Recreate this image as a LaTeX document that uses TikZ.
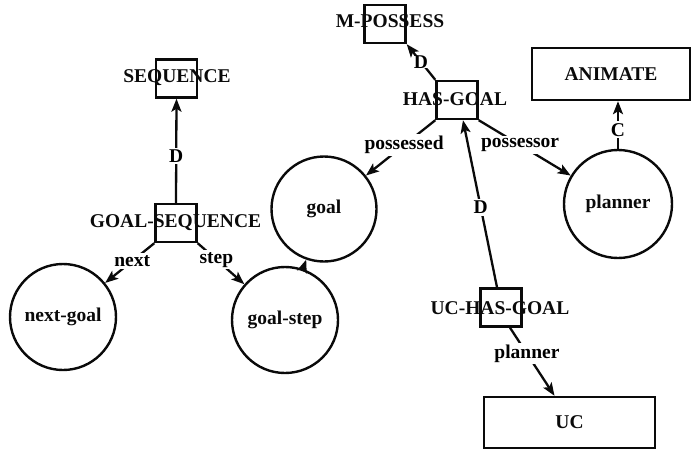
\documentclass[tikz,border=0pt]{standalone}
\usepackage{fontspec}
\setmainfont{Liberation Serif}
\usepackage{xcolor}
\definecolor{inkblack}{RGB}{10, 10, 10}
\usepackage{tikz}
\usetikzlibrary{arrows.meta,calc}
\newcommand{\netfont}{\fontsize{19.5}{22}\selectfont\bfseries}
\tikzset{
  cbox/.style={
    rectangle, draw=inkblack, line width=2.4pt,
    minimum width=41pt, minimum height=38pt, inner sep=0pt
  },
  cname/.style={
    font=\netfont, text=inkblack, inner sep=0pt
  },
  tokbox/.style={
    rectangle, draw=inkblack, line width=2.4pt,
    font=\netfont, text=inkblack, inner sep=0pt
  },
  token/.style={
    circle, draw=inkblack, line width=2.4pt,
    minimum size=106pt, inner sep=0pt,
    font=\netfont, text=inkblack
  },
  arrow/.style={-{Stealth[length=13pt,width=10pt,inset=3pt]}, line width=2.3pt, draw=inkblack},
  rolelbl/.style={font=\netfont, fill=white, inner sep=2pt},
}

\begin{document}
\begin{tikzpicture}[x=1pt,y=-1pt]
  \useasboundingbox (0,0) rectangle (693,453);

  % concept boxes with their names written across them
  \node[cbox] (seq) at (176.5,78.5) {};
  \node[cname] (seqname) at (177,78) {SEQUENCE};
  \node[cbox] (gseq) at (176,223) {};
  \node[cname] (gseqname) at (175.5,223) {GOAL-SEQUENCE};
  \node[cbox] (mposs) at (385,24) {};
  \node[cname] (mpossname) at (390,21) {M-POSSESS};
  \node[cbox] (hasgoal) at (457,100) {};
  \node[cname] (hasgoalname) at (455,99) {HAS-GOAL};
  \node[cbox] (uchasgoal) at (501,307.5) {};
  \node[cname] (uchasgoalname) at (500,308) {UC-HAS-GOAL};

  % type boxes
  \node[tokbox, minimum width=158pt, minimum height=52pt] (animate) at (611,74) {ANIMATE};
  \node[tokbox, minimum width=171pt, minimum height=51pt] (uc) at (569.5,422.5) {UC};

  % role fillers
  \node[token] (nextgoal) at (63,317) {next-goal};
  \node[token] (goalstep) at (285,320) {goal-step};
  \node[token, minimum size=105pt] (goal) at (324,209) {goal};
  \node[token, minimum size=108pt] (planner) at (618,204) {planner};

  \draw[arrow] (gseq.north) -- node[rolelbl, pos=0.45]{D} (seq.south);
  \draw[arrow] (gseq.south west) -- node[rolelbl, pos=0.45]{next} (nextgoal);
  \draw[arrow] (gseq.south east) -- node[rolelbl, pos=0.4]{step} (goalstep);
  \draw[arrow] (goalstep) -- (goal);

  \draw[arrow] (hasgoal.north west) -- node[rolelbl, inner sep=0pt]{D} (mposs.south east);
  \draw[arrow] (hasgoal.south west) -- node[rolelbl, pos=0.45]{possessed} (goal);
  \draw[arrow] (hasgoal.south east) -- node[rolelbl, pos=0.45]{possessor} (planner);
  \draw[arrow] (planner.north) -- node[rolelbl, pos=0.4]{C} (planner.north |- animate.south);

  \draw[arrow] ([xshift=-4pt]uchasgoal.north) -- node[rolelbl, pos=0.48]{D} ([xshift=6pt]hasgoal.south);
  \draw[arrow] ([xshift=9pt]uchasgoal.south) -- node[rolelbl, pos=0.38]{planner} ([xshift=-15pt]uc.north);

\end{tikzpicture}
\end{document}
